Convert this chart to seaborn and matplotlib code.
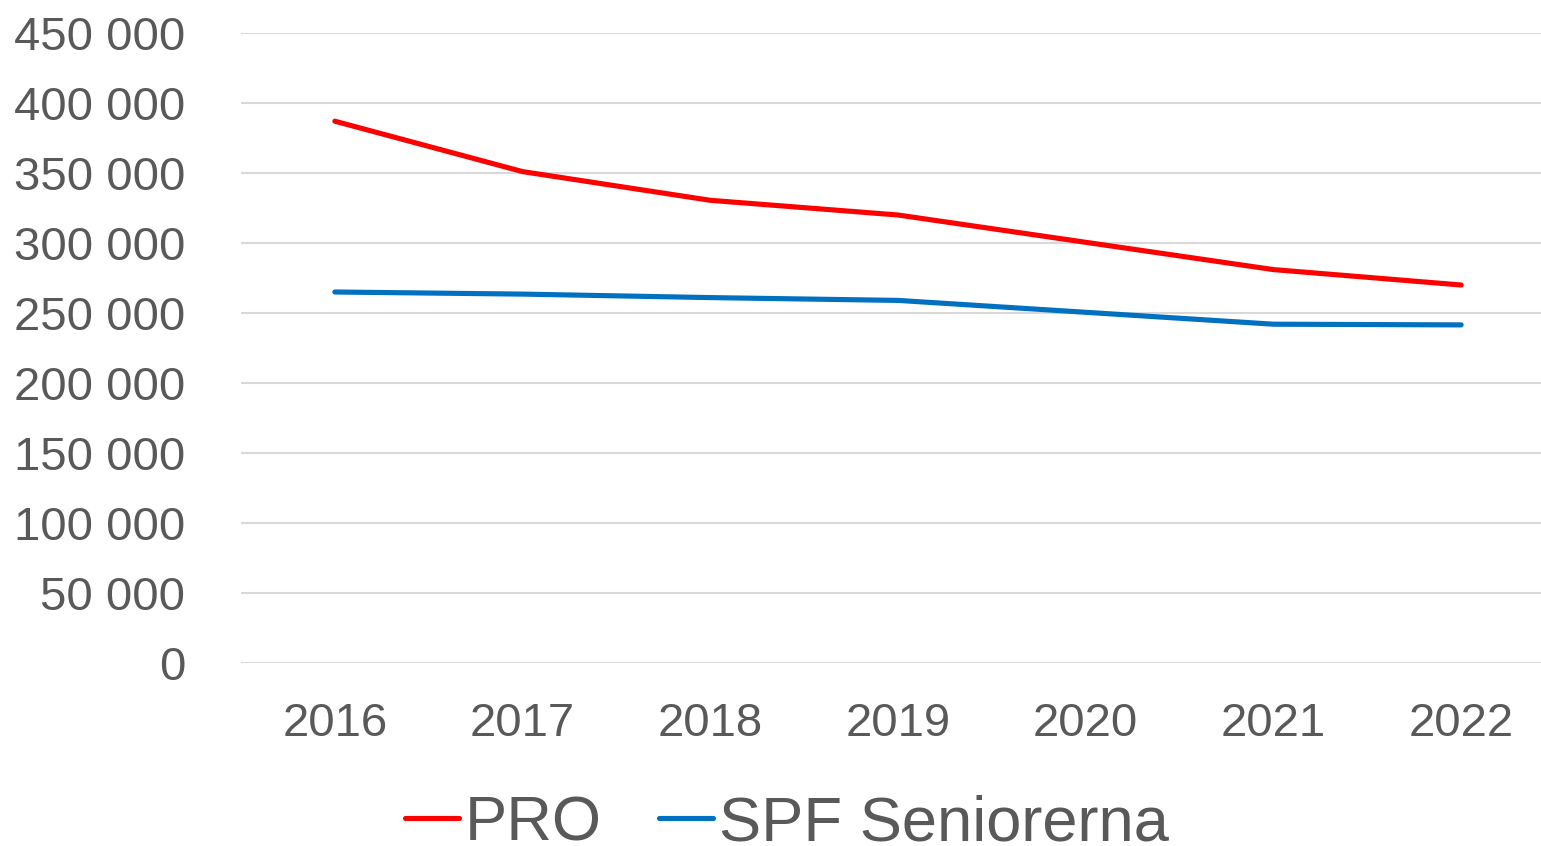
import pandas as pd
import matplotlib
matplotlib.use("Agg")
import matplotlib.pyplot as plt
from matplotlib.ticker import FuncFormatter
import seaborn as sns

years = ["2016", "2017", "2018", "2019", "2020", "2021", "2022"]
pro = [387000, 351000, 330500, 320000, 300500, 281000, 270000]
spf = [265000, 263500, 261000, 259000, 250500, 242000, 241500]
series_names = ["PRO", "SPF Seniorerna"]
series_colors = ["#ff0000", "#0070c0"]
y_ticks = [0, 50000, 100000, 150000, 200000, 250000, 300000, 350000, 400000, 450000]

df = pd.DataFrame({
    "year": years * 2,
    "members": pro + spf,
    "org": [series_names[0]] * len(years) + [series_names[1]] * len(years),
})

sns.set_theme(style="white")
plt.rcParams["font.family"] = ["Liberation Sans", "DejaVu Sans"]
text_color = "#595959"

fig = plt.figure(figsize=(15.41, 8.46), dpi=100)
ax = fig.add_axes([241 / 1541, 1 - 663 / 846, 1314 / 1541, 630 / 846])

sns.lineplot(data=df, x="year", y="members", hue="org", palette=series_colors,
             linewidth=3.7, ax=ax, legend=False, solid_capstyle="round")

ax.set_ylim(0, 450000)
ax.set_xlim(-0.5, 6.5)
ax.set_yticks(y_ticks)
ax.yaxis.set_major_formatter(FuncFormatter(lambda v, p: f"{int(v):,}".replace(",", " ")))
ax.grid(axis="y", color="#d9d9d9", linewidth=1.5)
ax.set_axisbelow(True)
for s in ax.spines.values():
    s.set_visible(False)
ax.tick_params(axis="y", length=0, pad=40, labelsize=34, labelcolor=text_color)
ax.tick_params(axis="x", length=0, pad=28, labelsize=34, labelcolor=text_color)
ax.set_xlabel("")
ax.set_ylabel("")

# legend below the plot, centred a bit left of the axes
handles = ax.get_lines()[:2]
leg = fig.legend(handles, series_names, loc="center",
                 bbox_to_anchor=(787 / 1541, 1 - 824 / 846), ncol=2, frameon=False,
                 fontsize=45.5, handlelength=0.85, handletextpad=0.1, columnspacing=0.9)
for t in leg.get_texts():
    t.set_color(text_color)

fig.savefig("out.png", dpi=100)
